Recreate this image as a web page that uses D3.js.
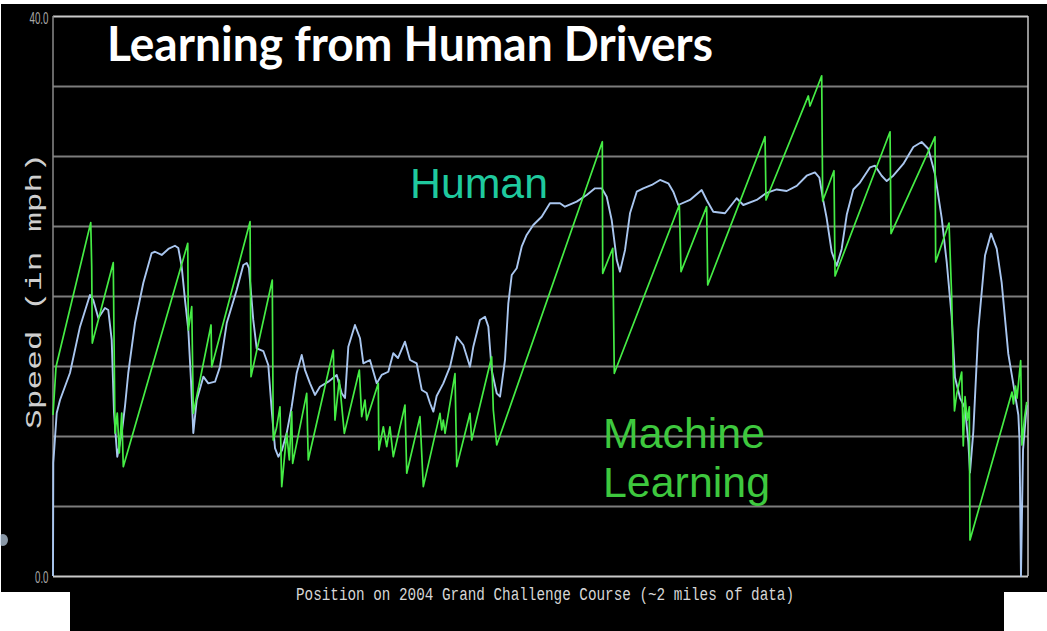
<!DOCTYPE html>
<html><head><meta charset="utf-8">
<script src="https://cdn.jsdelivr.net/npm/d3@7"></script>
<style>html,body{margin:0;padding:0;background:#fff;overflow:hidden}</style>
</head><body><svg id="c" width="1047" height="631"></svg>
<script>
// ---- data (position = sample index along ~2 miles, speed in mph) ----
const humanPos = [0.0,0.3,3.8,7.2,17.4,27.7,37.9,41.3,46.5,53.3,56.7,60.2,62.6,65.9,70.5,73.8,77.2,84.1,92.6,101.2,104.6,111.5,118.3,125.1,128.5,132.0,135.4,138.8,141.5,143.9,147.4,154.2,159.3,166.2,171.3,178.2,188.4,195.2,198.7,201.0,205.4,208.9,215.7,220.8,224.3,227.7,231.1,234.9,239.7,244.8,249.9,255.1,258.5,263.6,268.7,273.8,282.4,291.0,296.1,299.5,302.9,309.7,314.9,318.3,325.1,332.0,337.1,343.9,349.0,353.8,361.0,366.2,373.0,378.2,383.3,386.7,390.1,393.5,400.3,407.2,414.1,420.8,427.7,431.1,437.9,443.1,446.5,449.9,455.1,458.5,463.6,467.0,470.5,475.6,480.7,485.8,492.6,501.2,509.7,520.0,525.1,537.1,547.4,555.9,562.8,567.9,573.0,578.2,581.5,586.7,591.8,598.7,605.4,614.1,622.6,631.1,636.2,641.3,653.3,665.3,670.4,677.2,689.2,701.2,708.0,721.7,732.0,742.3,752.5,762.8,773.0,781.5,786.0,790.1,793.5,798.7,803.8,808.9,814.1,820.8,827.7,838.0,843.1,849.9,855.1,861.8,872.1,882.4,890.9,897.7,904.6,911.5,916.6,921.7,925.1,930.3,935.4,938.8,940.5,943.9,949.0,955.9,962.1,967.9,973.0,979.8,985.0,990.1,991.3,992.8,994.9,998.7];
const humanSpeed = [0.00,8.07,11.64,12.57,14.50,17.81,20.07,19.71,18.43,19.14,19.00,16.86,11.64,8.52,10.21,12.09,14.50,18.07,20.93,23.07,23.16,22.93,23.36,23.59,23.43,22.09,19.71,17.57,14.00,10.21,12.57,14.24,13.76,13.88,14.95,18.07,20.43,22.21,22.36,22.00,18.29,16.26,16.07,15.07,11.86,9.14,8.52,9.00,10.21,12.09,14.48,15.79,14.71,13.76,12.93,13.52,13.88,14.36,13.05,12.71,16.38,17.93,16.98,15.19,15.43,13.76,14.36,14.59,15.91,15.57,16.74,15.43,15.19,13.29,13.07,12.34,11.74,12.86,13.76,14.95,17.09,16.50,14.95,16.38,18.29,18.52,17.81,14.71,13.05,12.81,15.43,19.48,21.50,21.98,23.52,24.36,25.07,25.66,26.62,26.62,26.38,26.74,27.21,27.69,27.69,27.09,25.43,22.57,21.74,23.29,25.91,27.45,27.69,27.93,28.29,28.05,27.45,26.50,26.86,27.57,26.86,26.02,25.91,26.98,26.50,26.86,27.37,27.61,27.50,27.86,28.59,28.83,28.46,26.79,25.57,23.14,22.16,23.36,25.80,27.61,28.10,29.19,29.31,28.59,28.21,28.59,29.43,30.64,31.00,30.52,28.71,25.57,22.43,18.54,14.18,12.71,12.00,9.57,7.39,10.29,17.57,22.89,24.46,23.38,20.96,15.86,13.69,11.50,9.71,0.00,9.00,12.21];

const mlPos = [0.0,3.1,38.7,39.7,40.3,61.8,63.6,65.9,68.0,70.5,72.1,138.2,138.8,142.3,143.9,162.1,162.8,202.1,203.1,224.9,225.9,229.2,232.8,234.6,239.7,242.4,244.8,245.8,260.2,261.8,287.5,289.2,293.6,298.8,314.2,316.6,320.0,321.7,333.6,334.2,338.8,342.3,345.6,349.0,361.0,362.8,376.4,379.8,396.9,398.7,400.3,402.1,412.3,414.1,427.7,429.4,449.9,451.6,455.1,563.4,563.8,574.1,575.7,642.4,644.1,670.4,671.5,730.3,731.3,774.7,776.4,788.4,789.4,801.0,802.1,858.5,859.5,904.6,905.3,919.0,921.7,923.4,924.6,926.9,932.0,933.6,935.4,937.7,939.8,940.5,983.6,985.1,987.2,988.7,992.5,993.8,996.4,998.7];
const mlSpeed = [11.50,14.95,25.24,22.09,16.64,22.38,10.21,11.64,8.79,11.64,7.81,23.76,17.57,19.24,11.62,17.93,14.95,25.31,14.24,21.14,9.71,10.57,12.09,6.38,10.19,8.29,11.74,8.05,13.05,8.29,16.14,11.14,14.00,10.19,14.71,11.38,12.57,11.14,13.76,9.00,10.66,9.24,10.66,8.52,12.21,7.34,11.38,6.38,11.62,10.43,11.14,10.19,14.45,7.81,11.62,9.71,15.66,11.86,9.36,31.02,21.62,23.41,14.48,26.50,21.74,26.38,20.79,31.38,26.86,34.29,33.57,35.73,26.79,28.95,21.43,31.73,24.46,31.37,22.43,25.21,20.00,14.66,11.79,13.00,14.57,9.29,12.81,11.14,12.09,2.57,13.14,12.29,13.57,12.71,15.38,9.36,11.29,12.43];

const yTicks = [0,5,10,15,20,25,30,35,40];
const yTickLabels = {0:"0.0", 40:"40.0"};
const titleText = "Learning from Human Drivers";
const yTitle = "Speed (in mph)";
const xTitle = "Position on 2004 Grand Challenge Course (~2 miles of data)";
const seriesLabels = {human:"Human", ml:["Machine","Learning"]};

// ---- drawing ----
const svg = d3.select("#c");
const L = 53, R = 1028, T = 16, B = 576;
const x = d3.scaleLinear().domain([0,1000]).range([L,R]);
const y = d3.scaleLinear().domain([0,40]).range([B,T]);

svg.append("rect").attr("width",1047).attr("height",631).attr("fill","#fff");
svg.append("path").attr("d","M1,4H1047V592H1004V631H70V592H1V4Z").attr("fill","#000");
svg.append("ellipse").attr("cx",3).attr("cy",540).attr("rx",5).attr("ry",6).attr("fill","#c4d8ee").attr("opacity",0.7);

// gridlines via axis
const grid = svg.append("g").attr("transform",`translate(${L},0)`)
  .call(d3.axisLeft(y).tickValues(yTicks).tickSize(-(R-L)).tickFormat(""));
grid.select(".domain").remove();
grid.selectAll(".tick line")
  .attr("stroke", d => (d===0||d===40) ? "#c9c9c9" : "#7d7d7d")
  .attr("stroke-width", 2);

svg.append("line").attr("x1",L).attr("x2",L).attr("y1",y(40)).attr("y2",y(0))
  .attr("stroke","#8a8a8a").attr("stroke-width",1.5);
svg.append("line").attr("x1",R).attr("x2",R).attr("y1",y(40)).attr("y2",y(0))
  .attr("stroke","#c4c4c4").attr("stroke-width",1.5);

// tick labels
svg.selectAll("text.tl").data(Object.keys(yTickLabels).map(Number)).join("text")
  .attr("class","tl")
  .attr("x",48.5).attr("y",d => y(d)+ (d===40?7.5:7.3))
  .attr("text-anchor","end")
  .attr("font-family","Liberation Sans, Arial, sans-serif")
  .attr("font-size",16).attr("fill","#a8a8a8")
  .attr("textLength", d => d===40 ? 19 : 13.5).attr("lengthAdjust","spacingAndGlyphs")
  .text(d => yTickLabels[d]);

// axis titles
svg.append("text")
  .attr("transform","translate(41,291) rotate(-90)")
  .attr("text-anchor","middle")
  .attr("font-family","Liberation Mono, DejaVu Sans Mono, monospace")
  .attr("font-size",22).attr("fill","#cfcfcf")
  .attr("textLength",276).attr("lengthAdjust","spacingAndGlyphs")
  .text(yTitle);
svg.append("text")
  .attr("x",545).attr("y",600)
  .attr("text-anchor","middle")
  .attr("font-family","Liberation Mono, DejaVu Sans Mono, monospace")
  .attr("font-size",19).attr("fill","#d6d6d6")
  .attr("textLength",498).attr("lengthAdjust","spacingAndGlyphs")
  .text(xTitle);

// lines
const line = d3.line().x(d => x(d[0])).y(d => y(d[1]));
const human = humanPos.map((p,i) => [p, humanSpeed[i]]);
const ml = mlPos.map((p,i) => [p, mlSpeed[i]]);
svg.append("path").datum(human).attr("d",line).attr("fill","none")
  .attr("stroke","#a9c6ef").attr("stroke-width",1.9).attr("stroke-linejoin","round");
svg.append("path").datum(ml).attr("d",line).attr("fill","none")
  .attr("stroke","#45ec45").attr("stroke-width",1.7).attr("stroke-linejoin","round");

// title
svg.append("text").attr("x",107).attr("y",61)
  .attr("font-family","Lato, 'Open Sans', sans-serif").attr("font-weight",700)
  .attr("font-size",47).attr("fill","#fff")
  .attr("textLength",606).attr("lengthAdjust","spacingAndGlyphs")
  .text(titleText);

// series labels
svg.append("text").attr("x",410).attr("y",198)
  .attr("font-family","Liberation Sans, Arial, sans-serif").attr("font-size",42)
  .attr("fill","#1fc99e").attr("textLength",138).attr("lengthAdjust","spacingAndGlyphs")
  .text(seriesLabels.human);
svg.selectAll("text.ml").data(seriesLabels.ml).join("text").attr("class","ml")
  .attr("x",603).attr("y",(d,i) => 448 + i*49)
  .attr("font-family","Liberation Sans, Arial, sans-serif").attr("font-size",42)
  .attr("fill","#3ec83e")
  .attr("textLength",(d,i) => i===0 ? 162 : 167).attr("lengthAdjust","spacingAndGlyphs")
  .text(d => d);
</script></body></html>
